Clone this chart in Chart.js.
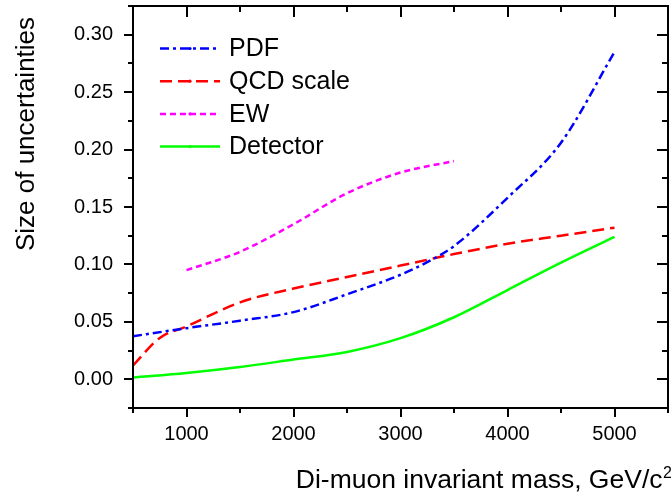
<!DOCTYPE html>
<html><head><meta charset="utf-8">
<script src="https://cdn.jsdelivr.net/npm/chart.js@4.4.1/dist/chart.umd.min.js"></script>
<style>html,body{margin:0;padding:0;background:#fff;}canvas{display:block;}</style>
</head><body>
<canvas id="c" width="671" height="495"></canvas>
<script>
// ---- data ----
const seriesNames = ["PDF", "QCD scale", "EW", "Detector"];
const pdfMass = [500, 1000, 1500, 2000, 2500, 3000, 3250, 3500, 4000, 4500, 5000];
const pdfValues = [0.0375, 0.0445, 0.051, 0.0585, 0.074, 0.091, 0.102, 0.116, 0.158, 0.206, 0.285];
const qcdMass = [500, 750, 1000, 1500, 2000, 2500, 3000, 3500, 4000, 4500, 5000];
const qcdValues = [0.012, 0.036, 0.046, 0.067, 0.079, 0.089, 0.099, 0.109, 0.118, 0.125, 0.132];
const ewMass = [1000, 1500, 2000, 2500, 3000, 3500];
const ewValues = [0.095, 0.111, 0.135, 0.162, 0.180, 0.190];
const detMass = [500, 1000, 1500, 2000, 2500, 3000, 3500, 4000, 4500, 5000];
const detValues = [0.0015, 0.0055, 0.0107, 0.0172, 0.0238, 0.0358, 0.054, 0.0777, 0.1015, 0.124];
const xTickValues = [500, 1000, 1500, 2000, 2500, 3000, 3500, 4000, 4500, 5000, 5500];
const xTickLabels = ["", "1000", "", "2000", "", "3000", "", "4000", "", "5000", ""];
const yTickValues = [-0.025, 0, 0.025, 0.05, 0.075, 0.1, 0.125, 0.15, 0.175, 0.2, 0.225, 0.25, 0.275, 0.3, 0.325];
const yTickLabels = ["", "0.00", "", "0.05", "", "0.10", "", "0.15", "", "0.20", "", "0.25", "", "0.30", ""];
const xTitle = "Di-muon invariant mass, GeV/c";
const xTitleSup = "2";
const yTitle = "Size of uncertainties";

const FONT = "'Liberation Sans', Arial, sans-serif";
const pts = (xs, ys) => xs.map((x, i) => ({x: x, y: ys[i]}));

const styles = [
  {color: '#0000ff', dash: [9, 4, 3, 4]},
  {color: '#ff0000', dash: [12, 6]},
  {color: '#ff00ff', dash: [6, 4]},
  {color: '#00ff00', dash: []}
];
const dataSets = [pts(pdfMass, pdfValues), pts(qcdMass, qcdValues), pts(ewMass, ewValues), pts(detMass, detValues)];

const decor = {
  id: 'decor',
  afterDraw(chart) {
    const ctx = chart.ctx, a = chart.chartArea;
    const xs = chart.scales.x, ys = chart.scales.y;
    ctx.save();
    ctx.strokeStyle = '#000';
    ctx.lineWidth = 2;
    ctx.setLineDash([]);
    ctx.strokeRect(a.left, a.top, a.right - a.left, a.bottom - a.top);
    ctx.lineWidth = 2;
    ctx.beginPath();
    xTickValues.forEach((v, i) => {
      const px = Math.round(xs.getPixelForValue(v));
      const major = xTickLabels[i] !== '' ;
      const outL = major ? 9 : 5, inL = major ? 11 : 6;
      ctx.moveTo(px, a.bottom); ctx.lineTo(px, a.bottom + outL);
      ctx.moveTo(px, a.top); ctx.lineTo(px, a.top + inL);
    });
    yTickValues.forEach((v, i) => {
      const py = Math.round(ys.getPixelForValue(v));
      const major = yTickLabels[i] !== '';
      const outL = major ? 9 : 5, inL = major ? 11 : 6;
      ctx.moveTo(a.left, py); ctx.lineTo(a.left - outL, py);
      ctx.moveTo(a.right, py); ctx.lineTo(a.right - inL, py);
    });
    ctx.stroke();

    // legend
    chart.data.datasets.forEach((ds, i) => {
      const y = 48.5 + i * 32.7;
      ctx.strokeStyle = ds.borderColor;
      ctx.lineWidth = 2.5;
      ctx.setLineDash(ds.borderDash || []);
      ctx.beginPath(); ctx.moveTo(160, y); ctx.lineTo(220, y); ctx.stroke();
      ctx.setLineDash([]);
      ctx.fillStyle = ds.borderColor;
      ctx.beginPath(); ctx.arc(190, y, 1.6, 0, Math.PI * 2); ctx.fill();
      ctx.fillStyle = '#000';
      ctx.font = '25px ' + FONT;
      ctx.textAlign = 'left';
      ctx.textBaseline = 'middle';
      ctx.fillText(ds.label, 229, y + 1);
    });

    // axis titles
    ctx.fillStyle = '#000';
    ctx.font = '26.5px ' + FONT;
    ctx.textAlign = 'right';
    ctx.textBaseline = 'alphabetic';
    ctx.fillText(xTitle, 662.5, 488);
    ctx.font = '16px ' + FONT;
    ctx.textAlign = 'left';
    ctx.fillText(xTitleSup, 663, 477.5);

    ctx.translate(34, 134);
    ctx.rotate(-Math.PI / 2);
    ctx.font = '26px ' + FONT;
    ctx.textAlign = 'center';
    ctx.textBaseline = 'alphabetic';
    ctx.fillText(yTitle, 0, 0);
    ctx.restore();
  }
};

new Chart(document.getElementById('c'), {
  type: 'line',
  data: {
    datasets: dataSets.map((d, i) => ({
      label: seriesNames[i],
      data: d,
      borderColor: styles[i].color,
      backgroundColor: styles[i].color,
      borderDash: styles[i].dash,
      borderWidth: 2.5,
      pointRadius: 0,
      fill: false,
      cubicInterpolationMode: 'monotone'
    }))
  },
  options: {
    responsive: false,
    animation: false,
    layout: {padding: {top: 6, right: 3, left: 0, bottom: 0}},
    plugins: {legend: {display: false}, tooltip: {enabled: false}},
    scales: {
      x: {
        type: 'linear', min: 500, max: 5500,
        afterBuildTicks: s => { s.ticks = xTickValues.map(v => ({value: v})); },
        afterFit: s => { s.height = 87; s.paddingLeft = 0; s.paddingRight = 0; },
        ticks: {
          autoSkip: false, maxRotation: 0, minRotation: 0, padding: 5, color: '#000',
          font: {family: FONT, size: 20},
          callback: (v, i) => xTickLabels[xTickValues.indexOf(v)] || ''
        },
        grid: {display: true, drawOnChartArea: false, drawTicks: true, tickLength: 9, color: 'rgba(0,0,0,0)'},
        border: {display: true, color: '#000', width: 2}
      },
      y: {
        type: 'linear', min: -0.025, max: 0.325,
        afterBuildTicks: s => { s.ticks = yTickValues.map(v => ({value: v})); },
        afterFit: s => { s.width = 133; s.paddingTop = 0; s.paddingBottom = 0; },
        ticks: {
          autoSkip: false, padding: 11, color: '#000',
          font: {family: FONT, size: 20},
          callback: (v) => {
            const k = yTickValues.findIndex(t => Math.abs(t - v) < 1e-9);
            return k >= 0 ? yTickLabels[k] : '';
          }
        },
        grid: {display: true, drawOnChartArea: false, drawTicks: true, tickLength: 9, color: 'rgba(0,0,0,0)'},
        border: {display: true, color: '#000', width: 2}
      }
    }
  },
  plugins: [decor]
});
</script>
</body></html>
